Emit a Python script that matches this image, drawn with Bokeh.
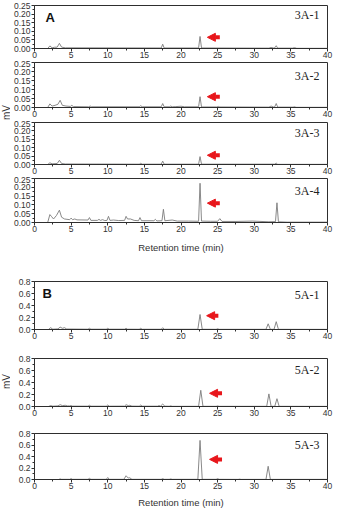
import math

from bokeh.plotting import figure
from bokeh.layouts import column, row
from bokeh.models import (Range1d, FixedTicker, PrintfTickFormatter, Label,
                          Arrow, NormalHead)
from bokeh.core.properties import value
from bokeh.embed import file_html
from bokeh.resources import INLINE

# ---- chromatogram traces: retention time (min) and signal (mV) ----
t_3a1 = [0, 1.8, 2.1, 2.4, 2.7, 3.1, 3.4, 3.7, 4.2, 17.3, 17.5, 17.7, 22.4, 22.6, 22.8,
         32.0, 32.3, 32.6, 32.8, 33.0, 33.2, 35.2, 35.5, 35.8, 40]
mv_3a1 = [0, 0, 0.015, 0.004, 0.007, 0.008, 0.03, 0.008, 0.004, 0.003, 0.025, 0.003,
          0.003, 0.07, 0.003, 0.002, 0.006, 0.003, 0.004, 0.016, 0.002, 0.002, 0.005,
          0.001, 0.001]

t_3a2 = [0, 1.8, 2.1, 2.4, 2.8, 3.2, 3.5, 3.8, 4.3, 4.9, 5.1, 5.3, 7.4, 7.6, 7.8,
         14.3, 14.5, 14.7, 17.3, 17.5, 17.7, 18.4, 18.6, 18.8, 19.3, 20.0, 20.5,
         22.4, 22.6, 22.8, 24.9, 25.1, 25.3, 32.0, 32.3, 32.6, 32.8, 33.0, 33.2,
         35.3, 35.5, 35.7, 40]
mv_3a2 = [0, 0, 0.02, 0.008, 0.012, 0.018, 0.04, 0.012, 0.008, 0.006, 0.012, 0.005,
          0.004, 0.008, 0.004, 0.004, 0.01, 0.004, 0.004, 0.022, 0.004, 0.004, 0.008,
          0.004, 0.005, 0.007, 0.004, 0.004, 0.06, 0.003, 0.003, 0.006, 0.003, 0.002,
          0.008, 0.003, 0.004, 0.022, 0.002, 0.002, 0.004, 0.001, 0.001]

t_3a3 = [0, 1.8, 2.1, 2.4, 3.1, 3.4, 3.7, 4.2, 14.3, 14.5, 14.7, 17.3, 17.5, 17.7,
         22.4, 22.6, 22.8, 32.8, 33.0, 33.2, 40]
mv_3a3 = [0, 0, 0.01, 0.004, 0.006, 0.025, 0.006, 0.003, 0.002, 0.007, 0.002, 0.002,
          0.02, 0.002, 0.002, 0.047, 0.002, 0.002, 0.008, 0.001, 0.001]

t_3a4 = [0, 1.8, 2.1, 2.3, 2.6, 3.0, 3.4, 3.7, 4.1, 4.8, 5.0, 5.2, 5.5, 5.8, 7.3, 7.5,
         7.7, 8.6, 8.8, 9.0, 9.3, 9.6, 9.9, 10.1, 10.3, 10.8, 11.5, 12.3, 12.5, 12.7,
         13.1, 13.6, 14.2, 14.4, 14.6, 16.3, 16.5, 16.7, 17.4, 17.6, 17.8, 18.8, 19.5,
         21.0, 22.4, 22.6, 22.8, 24.0, 25.0, 25.3, 25.6, 27.5, 29.8, 32.0, 32.9, 33.1,
         33.3, 34.5, 40]
mv_3a4 = [0, 0, 0.045, 0.035, 0.02, 0.04, 0.07, 0.03, 0.02, 0.016, 0.025, 0.016, 0.02,
          0.015, 0.014, 0.028, 0.012, 0.012, 0.018, 0.012, 0.016, 0.011, 0.012, 0.035,
          0.012, 0.014, 0.011, 0.012, 0.035, 0.02, 0.02, 0.012, 0.01, 0.028, 0.01, 0.01,
          0.018, 0.009, 0.01, 0.075, 0.01, 0.014, 0.008, 0.008, 0.007, 0.223, 0.008,
          0.007, 0.007, 0.022, 0.006, 0.006, 0.008, 0.004, 0.005, 0.112, 0.004, 0.002,
          0.002]

t_5a1 = [0, 1.9, 2.2, 2.5, 3.2, 3.5, 3.8, 4.1, 4.4, 7.3, 7.5, 7.7, 9.8, 10.0, 10.2,
         12.3, 12.5, 12.7, 14.3, 14.5, 14.7, 17.3, 17.5, 17.7, 22.3, 22.6, 22.9,
         24.8, 25.0, 25.2, 31.6, 31.9, 32.2, 32.7, 33.0, 33.3, 40]
mv_5a1 = [0, 0, 0.03, 0.005, 0.01, 0.04, 0.02, 0.03, 0.008, 0.005, 0.02, 0.005, 0.005,
          0.02, 0.005, 0.005, 0.02, 0.005, 0.004, 0.02, 0.004, 0.004, 0.03, 0.004,
          0.004, 0.25, 0.004, 0.003, 0.012, 0.003, 0.003, 0.095, 0.003, 0.003, 0.13,
          0.003, 0.002]

t_5a2 = [0, 1.9, 2.2, 2.5, 3.2, 3.5, 3.8, 4.2, 4.5, 4.8, 5.0, 5.2, 7.3, 7.5, 7.7, 9.8,
         10.0, 10.2, 12.3, 12.5, 12.8, 13.0, 13.3, 14.3, 14.5, 14.7, 16.8, 17.0, 17.2,
         17.5, 17.8, 18.4, 18.6, 18.8, 22.4, 22.7, 23.0, 24.8, 25.0, 25.2, 31.7, 32.0,
         32.3, 32.8, 33.1, 33.4, 40]
mv_5a2 = [0, 0, 0.015, 0.005, 0.01, 0.03, 0.015, 0.02, 0.01, 0.01, 0.015, 0.006, 0.005,
          0.02, 0.005, 0.005, 0.025, 0.005, 0.006, 0.03, 0.015, 0.02, 0.006, 0.005,
          0.025, 0.005, 0.005, 0.015, 0.006, 0.04, 0.005, 0.004, 0.01, 0.003, 0.003,
          0.27, 0.003, 0.003, 0.01, 0.003, 0.003, 0.21, 0.003, 0.003, 0.13, 0.003,
          0.002]

t_5a3 = [0, 3.3, 3.5, 3.7, 4.8, 5.0, 5.2, 7.3, 7.5, 7.7, 9.8, 10.0, 10.2, 12.2, 12.5,
         12.8, 13.0, 13.3, 17.3, 17.5, 17.7, 18.4, 18.6, 18.8, 22.3, 22.6, 22.9, 24.8,
         25.0, 25.2, 27.8, 28.0, 28.2, 31.6, 31.9, 32.2, 40]
mv_5a3 = [0, 0, 0.01, 0.003, 0.003, 0.015, 0.003, 0.003, 0.02, 0.003, 0.003, 0.035,
          0.003, 0.003, 0.065, 0.025, 0.03, 0.003, 0.003, 0.015, 0.003, 0.003, 0.01,
          0.003, 0.003, 0.68, 0.003, 0.003, 0.015, 0.003, 0.002, 0.006, 0.002, 0.002,
          0.23, 0.002, 0.002]

# sample names
names_a = ["3A-1", "3A-2", "3A-3", "3A-4"]
names_b = ["5A-1", "5A-2", "5A-3"]

# axis ticks
x_ticks = [0, 5, 10, 15, 20, 25, 30, 35, 40]
x_minor = [2.5, 7.5, 12.5, 17.5, 22.5, 27.5, 32.5, 37.5]
y_ticks_a = [0.0, 0.05, 0.10, 0.15, 0.20, 0.25]
y_minor_a = [0.025, 0.075, 0.125, 0.175, 0.225]
y_ticks_b = [0.0, 0.2, 0.4, 0.6, 0.8]
y_minor_b = [0.1, 0.3, 0.5, 0.7]

# red pointer arrows (tail time, head time, level) marking the target peak
arrows_a = [(25.3, 23.6, 0.065), (25.3, 23.6, 0.06), (25.3, 23.6, 0.055), (25.3, 23.6, 0.11)]
arrows_b = [(25.1, 23.5, 0.23), (25.6, 23.9, 0.22), (25.6, 23.9, 0.35)]

SANS = "Liberation Sans"
SERIF = "Liberation Serif"
RED = "#e8161b"
TRACE = "#7c7c7c"
AXIS = "#2e2e2e"
TICKTXT = "#333333"

SIDE_W = 10          # narrow strip on the left that carries the "mV" titles
TOTAL_H = 510


def panel(t, mv, name, ymax, yticks, yminor, fmt, arrow, top, frame_h, bottom,
          name_y, title=False, title_standoff=8):
    p = figure(width=338 - SIDE_W, height=top + frame_h + bottom,
               x_range=Range1d(0, 40), y_range=Range1d(0, ymax),
               output_backend="svg", toolbar_location=None,
               min_border_left=33 - SIDE_W, min_border_right=11,
               min_border_top=top, min_border_bottom=bottom)
    p.grid.visible = False
    p.outline_line_color = AXIS
    p.outline_line_width = 1
    p.background_fill_color = "white"
    p.border_fill_color = "white"

    p.xaxis.ticker = FixedTicker(ticks=x_ticks, minor_ticks=x_minor)
    p.yaxis.ticker = FixedTicker(ticks=yticks, minor_ticks=yminor)
    p.yaxis.formatter = PrintfTickFormatter(format=fmt)
    for ax in (p.xaxis, p.yaxis):
        ax.axis_line_color = AXIS
        ax.major_tick_line_color = AXIS
        ax.minor_tick_line_color = AXIS
        ax.major_tick_in = 0
        ax.major_tick_out = 3
        ax.minor_tick_in = 0
        ax.minor_tick_out = 2
        ax.major_label_text_font = SANS
        ax.major_label_text_font_size = "8.5px"
        ax.major_label_text_color = TICKTXT
    p.xaxis.major_label_standoff = 0
    p.yaxis.major_label_standoff = 1
    if title:
        p.xaxis.axis_label = "Retention time (min)"
        p.xaxis.axis_label_text_font = SANS
        p.xaxis.axis_label_text_font_style = "normal"
        p.xaxis.axis_label_text_font_size = "9.5px"
        p.xaxis.axis_label_text_color = "#333333"
        p.xaxis.axis_label_standoff = title_standoff

    p.line(t, mv, line_color=TRACE, line_width=0.9)

    tail, head, lvl = arrow
    p.add_layout(Arrow(x_start=tail, y_start=lvl, x_end=head, y_end=lvl,
                       line_color=RED, line_width=4,
                       end=NormalHead(size=8, fill_color=RED, line_color=RED,
                                      line_width=1)))
    p.add_layout(Label(x=38.9, y=name_y, text=name, text_align="right",
                       text_baseline="middle", text_font=SERIF,
                       text_font_size="12px", text_color="#222222"))
    return p


fmt_a = "%.2f"
fmt_b = "%.1f"

a1 = panel(t_3a1, mv_3a1, names_a[0], 0.25, y_ticks_a, y_minor_a, fmt_a, arrows_a[0],
           5, 43, 12, 0.195)
a2 = panel(t_3a2, mv_3a2, names_a[1], 0.25, y_ticks_a, y_minor_a, fmt_a, arrows_a[1],
           2, 45, 13, 0.175)
a3 = panel(t_3a3, mv_3a3, names_a[2], 0.25, y_ticks_a, y_minor_a, fmt_a, arrows_a[2],
           2, 42, 12, 0.19)
a4 = panel(t_3a4, mv_3a4, names_a[3], 0.25, y_ticks_a, y_minor_a, fmt_a, arrows_a[3],
           2, 44, 36, 0.18, title=True, title_standoff=7)

b1 = panel(t_5a1, mv_5a1, names_b[0], 0.8, y_ticks_b, y_minor_b, fmt_b, arrows_b[0],
           23, 48, 14, 0.58)
b2 = panel(t_5a2, mv_5a2, names_b[1], 0.8, y_ticks_b, y_minor_b, fmt_b, arrows_b[1],
           15, 48, 13, 0.61)
b3 = panel(t_5a3, mv_5a3, names_b[2], 0.8, y_ticks_b, y_minor_b, fmt_b, arrows_b[2],
           14, 48, 29, 0.6, title=True, title_standoff=5)

# group letters
a1.add_layout(Label(x=1.5, y=0.183, text="A", text_font=SANS, text_font_style="bold",
                    text_font_size="13px", text_baseline="middle", text_color="#111111"))
b1.add_layout(Label(x=1.1, y=0.6, text="B", text_font=SANS, text_font_style="bold",
                    text_font_size="13px", text_baseline="middle", text_color="#111111"))

# left strip with the shared "mV" titles (y measured in pixels from the top)
side = figure(width=SIDE_W, height=TOTAL_H, x_range=Range1d(0, SIDE_W),
              y_range=Range1d(TOTAL_H, 0), output_backend="svg",
              toolbar_location=None, min_border=0)
side.axis.visible = False
side.grid.visible = False
side.outline_line_color = None
side.text(x=[5.5, 5.5], y=[112, 381], text=["mV", "mV"], angle=math.pi / 2,
          text_font=value(SANS), text_font_size="10px", text_align="center",
          text_baseline="middle", text_color="#333333")

layout = row(side, column(a1, a2, a3, a4, b1, b2, b3, spacing=0), spacing=0)

with open("out.html", "w") as f:
    f.write(file_html(layout, INLINE))
